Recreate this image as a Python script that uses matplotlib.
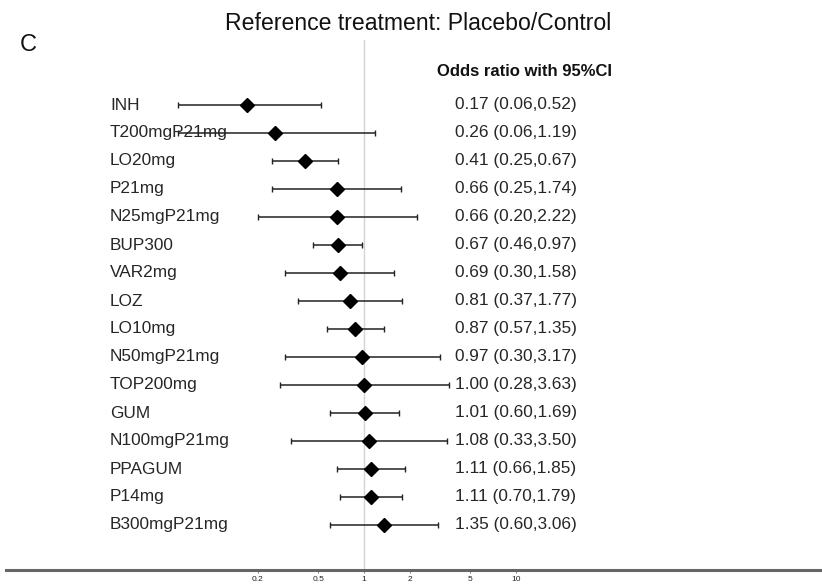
import numpy as np
import matplotlib
matplotlib.use("Agg")
import matplotlib.pyplot as plt
from matplotlib.transforms import blended_transform_factory

plt.rcParams['font.family'] = ['Liberation Sans', 'DejaVu Sans']

# --- dados ---
tratamentos = ['INH', 'T200mgP21mg', 'LO20mg', 'P21mg', 'N25mgP21mg', 'BUP300',
               'VAR2mg', 'LOZ', 'LO10mg', 'N50mgP21mg', 'TOP200mg', 'GUM',
               'N100mgP21mg', 'PPAGUM', 'P14mg', 'B300mgP21mg']
odds = [0.17, 0.26, 0.41, 0.66, 0.66, 0.67, 0.69, 0.81, 0.87, 0.97, 1.00, 1.01,
        1.08, 1.11, 1.11, 1.35]
ic_inf = [0.06, 0.06, 0.25, 0.25, 0.20, 0.46, 0.30, 0.37, 0.57, 0.30, 0.28, 0.60,
          0.33, 0.66, 0.70, 0.60]
ic_sup = [0.52, 1.19, 0.67, 1.74, 2.22, 0.97, 1.58, 1.77, 1.35, 3.17, 3.63, 1.69,
          3.50, 1.85, 1.79, 3.06]
ticks = [0.2, 0.5, 1, 2, 5, 10]

W, H = 822, 585
fig = plt.figure(figsize=(W / 100, H / 100), dpi=100)

# eixo principal: do topo até a linha do eixo (pixel 570)
eixo_px = 570
ax = fig.add_axes([6 / W, (H - eixo_px) / H, 1 - 6 / W, eixo_px / H])
ax.set_xscale('log')
por_decada = 152
x1 = 364
ax.set_xlim(10 ** ((6 - x1) / por_decada), 10 ** ((W - x1) / por_decada))
linha0, passo = 105, 28.0
ax.set_ylim((eixo_px - linha0) / passo, -linha0 / passo)

y = np.arange(len(tratamentos))
odds = np.array(odds)
err = [odds - np.array(ic_inf), np.array(ic_sup) - odds]

ax.axvline(1, ymin=0, ymax=(eixo_px - 40) / eixo_px, color='#d4d4d4', lw=1, zorder=0)
ax.errorbar(odds, y, xerr=err, fmt='none', ecolor='#222222', elinewidth=1.1,
            capsize=2.2, capthick=1.0, zorder=2)
ax.plot(odds, y, 'D', color='black', markersize=7.5, zorder=3)

trans = blended_transform_factory(fig.transFigure, ax.transData)
for i, nome in enumerate(tratamentos):
    ax.text(110 / W, i, nome, transform=trans, ha='left', va='center',
            fontsize=12.4, color='#262626', zorder=1)
    ax.text(455 / W, i, f'{odds[i]:.2f} ({ic_inf[i]:.2f},{ic_sup[i]:.2f})',
            transform=trans, ha='left', va='center', fontsize=12.4, color='#262626')

# aparência do eixo
for s in ['top', 'right', 'left']:
    ax.spines[s].set_visible(False)
ax.spines['bottom'].set_color('#666666')
ax.spines['bottom'].set_linewidth(2.2)
ax.set_yticks([])
ax.set_xticks(ticks)
ax.set_xticklabels([str(t) for t in ticks])
ax.xaxis.set_minor_locator(matplotlib.ticker.NullLocator())
ax.tick_params(axis='x', length=2, width=0.6, color='#666666', labelsize=6, pad=2,
               labelcolor='#222222')
ax.patch.set_alpha(0)

fig.text(418 / W, 1 - 23 / H, 'Reference treatment: Placebo/Control', ha='center',
         va='center', fontsize=16.6, color='#111111')
fig.text(20 / W, 1 - 45 / H, 'C', ha='left', va='center', fontsize=17, color='#111111')
fig.text(437 / W, 1 - 72 / H, 'Odds ratio with 95%CI', ha='left', va='center',
         fontsize=12, fontweight='bold', color='#111111')

fig.savefig('out.png', dpi=100)
